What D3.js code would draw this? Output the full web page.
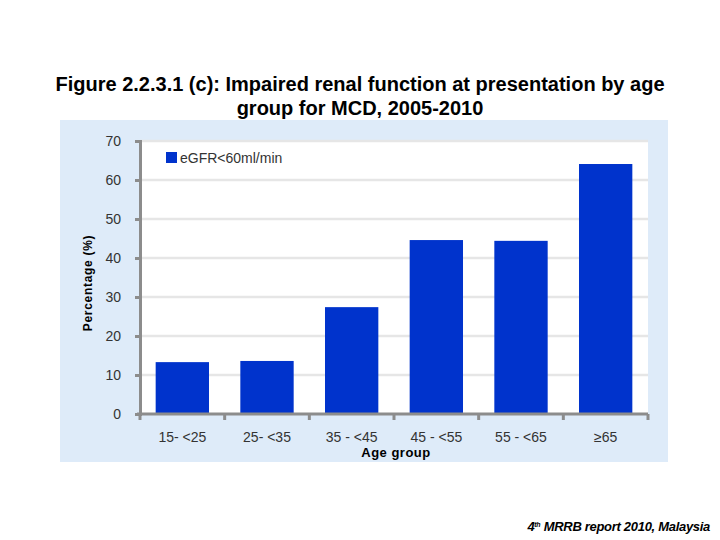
<!DOCTYPE html>
<html>
<head>
<meta charset="utf-8">
<script src="https://cdn.jsdelivr.net/npm/d3@7"></script>
<style>
  body { margin: 0; background: #fff; }
  svg text { font-family: "Liberation Sans", Arial, sans-serif; }
</style>
</head>
<body>
<svg id="chart" width="720" height="540"></svg>
<script>
var ageGroups = ["15- <25", "25- <35", "35 - <45", "45 - <55", "55 - <65", "\u226565"];
var egfrPercent = [13.3, 13.6, 27.4, 44.6, 44.4, 64.1];
var yTicks = [0, 10, 20, 30, 40, 50, 60, 70];
var seriesName = "eGFR<60ml/min";

var svg = d3.select("#chart");
var plot = { left: 140, right: 648, top: 141, bottom: 414 };

// title
var title = svg.append("text")
    .attr("x", 360).attr("y", 91)
    .attr("text-anchor", "middle")
    .style("font-size", "20px").style("font-weight", "bold").attr("fill", "#000");
title.append("tspan").attr("x", 360).text("Figure 2.2.3.1 (c): Impaired renal function at presentation by age");
title.append("tspan").attr("x", 360).attr("dy", 24).text("group for MCD, 2005-2010");

// light blue panel
svg.append("rect")
    .attr("x", 60).attr("y", 120).attr("width", 608).attr("height", 342)
    .attr("fill", "#deebf9");
svg.append("rect")
    .attr("x", plot.left).attr("y", plot.top)
    .attr("width", plot.right - plot.left).attr("height", plot.bottom - plot.top)
    .attr("fill", "#fff");

var x = d3.scaleBand().domain(ageGroups).range([plot.left, plot.right]).paddingInner(0.37).paddingOuter(0.185);
var y = d3.scaleLinear().domain([0, 70]).range([plot.bottom, plot.top]);

// gridlines
svg.append("g").selectAll("line").data(yTicks.filter(function(d){ return d > 0; }))
    .enter().append("line")
    .attr("x1", plot.left).attr("x2", plot.right)
    .attr("y1", function(d){ return y(d); }).attr("y2", function(d){ return y(d); })
    .attr("stroke", "#e6e6e6").attr("stroke-width", 2.5);

// bars
svg.append("g").selectAll("rect").data(egfrPercent)
    .enter().append("rect")
    .attr("x", function(d, i){ return x(ageGroups[i]); })
    .attr("width", x.bandwidth())
    .attr("y", function(d){ return y(d); })
    .attr("height", function(d){ return y(0) - y(d); })
    .attr("fill", "#0033cc");

// y axis
var yAxis = svg.append("g").attr("transform", "translate(" + plot.left + ",0)")
    .call(d3.axisLeft(y).tickValues(yTicks).tickSize(5).tickPadding(14));
yAxis.select(".domain").attr("stroke", "#8c8c8c").attr("stroke-width", 3);
yAxis.selectAll(".tick line").attr("stroke", "#8c8c8c").attr("stroke-width", 3);
yAxis.selectAll(".tick text").style("font-size", "14px").attr("fill", "#333");

// x axis with ticks at category boundaries
var xAxis = svg.append("g").attr("transform", "translate(0," + plot.bottom + ")");
xAxis.append("line")
    .attr("x1", plot.left - 3).attr("x2", plot.right)
    .attr("stroke", "#8c8c8c").attr("stroke-width", 3);
var step = (plot.right - plot.left) / ageGroups.length;
xAxis.selectAll("line.tk").data(d3.range(ageGroups.length + 1))
    .enter().append("line").attr("class", "tk")
    .attr("x1", function(i){ return plot.left + i * step; })
    .attr("x2", function(i){ return plot.left + i * step; })
    .attr("y1", 0).attr("y2", 6)
    .attr("stroke", "#8c8c8c").attr("stroke-width", 3);
xAxis.selectAll("text").data(ageGroups)
    .enter().append("text")
    .attr("x", function(d){ return x(d) + x.bandwidth() / 2; })
    .attr("y", 28)
    .attr("text-anchor", "middle")
    .style("font-size", "14px").attr("fill", "#333")
    .text(function(d){ return d; });

// axis titles
svg.append("text")
    .attr("x", 396).attr("y", 457)
    .attr("text-anchor", "middle")
    .style("font-size", "13px").style("font-weight", "bold").style("letter-spacing", "0.5px")
    .attr("fill", "#000")
    .text("Age group");
svg.append("text")
    .attr("transform", "translate(92,283) rotate(-90)")
    .attr("text-anchor", "middle")
    .style("font-size", "12px").style("font-weight", "bold").style("letter-spacing", "0.7px")
    .attr("fill", "#000")
    .text("Percentage (%)");

// legend
svg.append("rect").attr("x", 166).attr("y", 152).attr("width", 11).attr("height", 11).attr("fill", "#0033cc");
svg.append("text").attr("x", 180).attr("y", 163)
    .style("font-size", "14px").attr("fill", "#333").text(seriesName);

// footer
var foot = svg.append("text")
    .attr("x", 710).attr("y", 531).attr("text-anchor", "end")
    .style("font-size", "13px").style("font-style", "italic").style("font-weight", "bold")
    .style("letter-spacing", "-0.3px").attr("fill", "#000");
foot.append("tspan").text("4");
foot.append("tspan").attr("dy", -4).style("font-size", "7px").text("th");
foot.append("tspan").attr("dy", 4).text(" MRRB report 2010, Malaysia");
</script>
</body>
</html>
